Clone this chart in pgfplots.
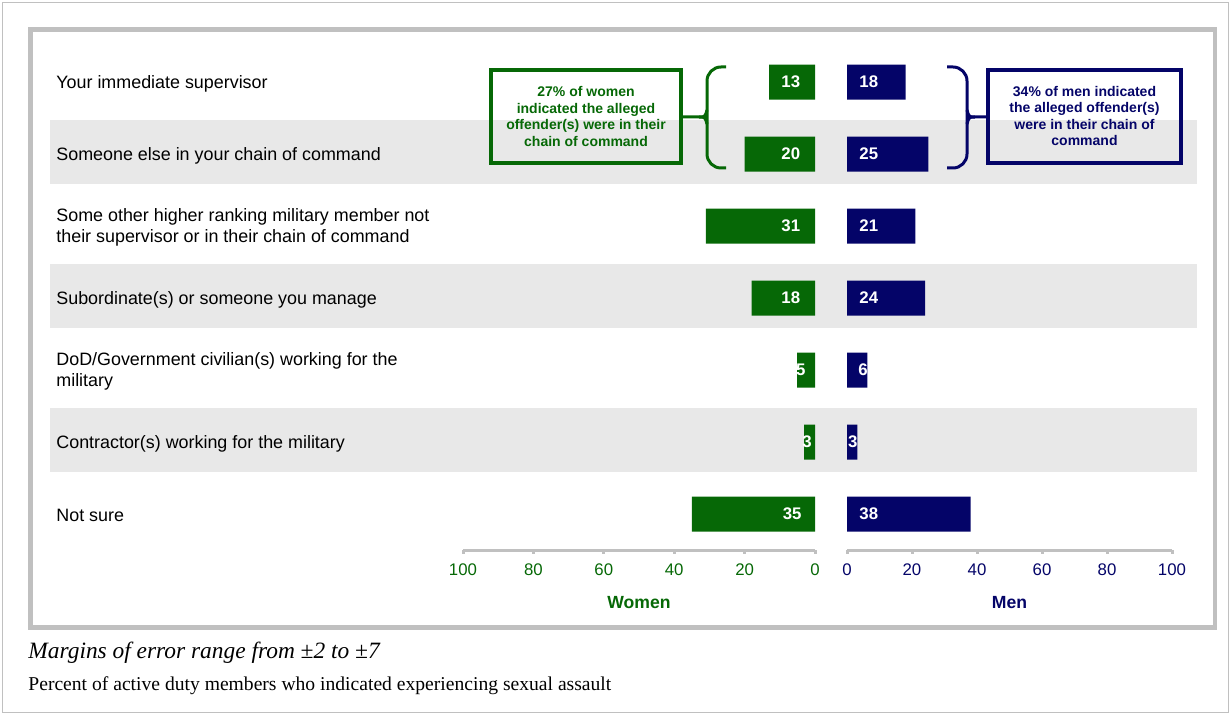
\documentclass[border=0pt]{standalone}
\usepackage{fontspec}
\setmainfont{Liberation Sans}
\newfontfamily\timesfont{Liberation Serif}
\usepackage{pgfplots}
\pgfplotsset{compat=1.18}
\definecolor{wgreen}{RGB}{6,104,6}
\definecolor{mnavy}{RGB}{4,4,104}
\definecolor{band}{RGB}{232,232,232}
\definecolor{framegray}{RGB}{192,192,192}
\definecolor{axgray}{RGB}{192,192,192}
\begin{document}
\begin{tikzpicture}
\begin{scope}[x=0.5pt,y=-0.5pt]
\useasboundingbox (0,0) rectangle (1231,715);
\draw[framegray, line width=0.6pt] (2.5,2.5) rectangle (1228.5,712.5);
\foreach \i in {1,3,5} \fill[band] (50,{82+72*\i-34}) rectangle (1197,{82+72*\i+30});
\draw[framegray, line width=2.4pt] (30.5,29.5) rectangle (1215,627.5);
\end{scope}

% Women
\begin{axis}[at={(231.5pt,-275pt)}, anchor=south west, scale only axis,
  width=176pt, height=252pt, xmin=0, xmax=100, x dir=reverse,
  ymin=-0.5, ymax=6.5, y dir=reverse,
  axis x line*=bottom, axis y line=none,
  x axis line style={-, axgray, line width=1.5pt},
  xtick={0,20,...,100}, xtick align=outside, major tick length=1.8pt,
  xtick style={axgray, line width=1.5pt}, ytick=\empty,
  xticklabel style={text=wgreen, yshift=-1.5pt, font=\fontsize{8.4}{10}\selectfont},
  /pgf/number format/assume math mode=true,
  xlabel={Women}, xlabel style={text=wgreen, yshift=-3.5pt, font=\bfseries\fontsize{8.8}{10}\selectfont},
  bar width=17.5pt, clip=false]
\addplot[xbar, bar shift=0pt, fill=wgreen, draw=none] coordinates {(13,0) (20,1) (31,2) (18,3) (5.1,4) (3.1,5) (35,6)};
\addplot[draw=none, nodes near coords, point meta=explicit symbolic,
  nodes near coords style={anchor=east, inner sep=0pt, text=white, font=\bfseries\fontsize{8.4}{10}\selectfont}]
  coordinates {(4.1,0)[13] (4.1,1)[20] (4.1,2)[31] (4.1,3)[18] (2.6,4)[5] (0.85,5)[3] (3.7,6)[35]};
\end{axis}

% Men
\begin{axis}[at={(423.5pt,-275pt)}, anchor=south west, scale only axis,
  width=162.5pt, height=252pt, xmin=0, xmax=100,
  ymin=-0.5, ymax=6.5, y dir=reverse,
  axis x line*=bottom, axis y line*=left, y axis line style={draw=none},
  x axis line style={-, axgray, line width=1.5pt},
  xtick={0,20,...,100}, xtick align=outside, major tick length=1.8pt,
  xtick style={axgray, line width=1.5pt},
  ytick={0,...,6}, ytick style={draw=none},
  yticklabels={{Your immediate supervisor},{Someone else in your chain of command},{Some other higher ranking military member not\\their supervisor or in their chain of command},{Subordinate(s) or someone you manage},{DoD/Government civilian(s) working for the\\military},{Contractor(s) working for the military},{Not sure}},
  yticklabel style={anchor=west, align=left, inner xsep=0pt, xshift=-395.5pt, yshift=-0.8pt, text=black, font=\fontsize{8.95}{10.5}\selectfont},
  xticklabel style={text=mnavy, yshift=-1.5pt, font=\fontsize{8.4}{10}\selectfont},
  /pgf/number format/assume math mode=true,
  xlabel={Men}, xlabel style={text=mnavy, yshift=-3.5pt, font=\bfseries\fontsize{8.8}{10}\selectfont},
  bar width=17.5pt, clip=false]
\addplot[xbar, bar shift=0pt, fill=mnavy, draw=none] coordinates {(18,0) (25,1) (21,2) (24,3) (6.3,4) (3.2,5) (38,6)};
\addplot[draw=none, nodes near coords, point meta=explicit symbolic,
  nodes near coords style={anchor=west, inner sep=0pt, text=white, font=\bfseries\fontsize{8.4}{10}\selectfont}]
  coordinates {(3.7,0)[18] (3.7,1)[25] (3.7,2)[21] (3.7,3)[24] (3.4,4)[6] (0.2,5)[3] (3.7,6)[38]};
\end{axis}

\begin{scope}[x=0.5pt,y=-0.5pt]
% green box and brace
\draw[wgreen, line width=1.75pt] (491,70) rectangle (681,163);
\node[text=wgreen, align=center, font=\bfseries\fontsize{7}{8.25}\selectfont] at (586,116.5)
  {27\% of women\\indicated the alleged\\offender(s) were in their\\chain of command};
\draw[wgreen, line width=1.5pt, rounded corners=7pt] (726,67) -- (707,67) -- (707,117) -- (707,168) -- (726,168);
\draw[wgreen, line width=1.5pt] (681,117) -- (699,117) .. controls (705,117) .. (707,110);
\draw[wgreen, line width=1.5pt] (699,117) .. controls (705,117) .. (707,124);
% navy box and brace
\draw[mnavy, line width=1.75pt] (988,70) rectangle (1181,163);
\node[text=mnavy, align=center, font=\bfseries\fontsize{7}{8.25}\selectfont] at (1084.5,116)
  {34\% of men indicated\\the alleged offender(s)\\were in their chain of\\command};
\draw[mnavy, line width=1.5pt, rounded corners=7pt] (947,67) -- (967,67) -- (967,117) -- (967,168) -- (947,168);
\draw[mnavy, line width=1.5pt] (988,117) -- (975,117) .. controls (969,117) .. (967,110);
\draw[mnavy, line width=1.5pt] (975,117) .. controls (969,117) .. (967,124);
% footnotes
\node[anchor=base west, inner sep=0pt, font=\timesfont\itshape\fontsize{11.7}{13}\selectfont] at (28,658)
  {Margins of error range from ±2 to ±7};
\node[anchor=base west, inner sep=0pt, font=\timesfont\fontsize{9.8}{11}\selectfont] at (28,690)
  {Percent of active duty members who indicated experiencing sexual assault};
\end{scope}
\end{tikzpicture}
\end{document}
